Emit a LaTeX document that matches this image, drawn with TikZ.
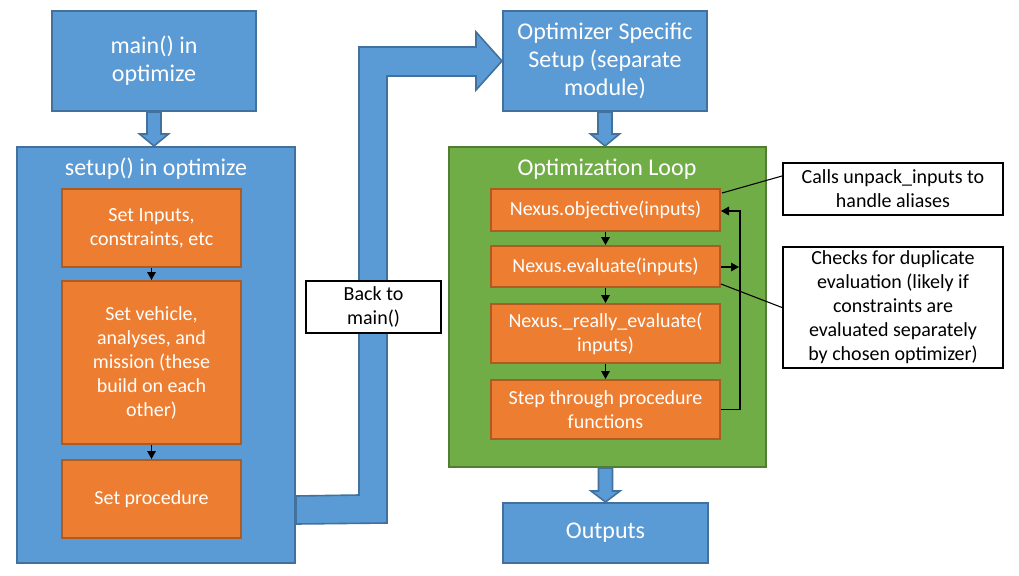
\documentclass[tikz,border=0pt]{standalone}
\usepackage{fontspec}
\setmainfont{Carlito}
\usetikzlibrary{calc,positioning,arrows.meta,backgrounds}
\definecolor{boxblue}{HTML}{5B9BD5}
\definecolor{blueline}{HTML}{41719C}
\definecolor{boxorange}{HTML}{ED7D31}
\definecolor{orangeline}{HTML}{AE5A21}
\definecolor{boxgreen}{HTML}{70AD47}
\definecolor{greenline}{HTML}{507E32}
\newcommand{\pxu}{0.75pt}
\tikzset{%
  >={Triangle[length=6pt,width=6.5pt]},
  big/.style={font=\fontsize{18}{21}\selectfont},
  small/.style={font=\fontsize{15}{18}\selectfont},
  bluebox/.style={draw=blueline,fill=boxblue,line width=1.5pt,text=white,align=center,inner sep=0pt},
  orangebox/.style={draw=orangeline,fill=boxorange,line width=1.5pt,text=white,align=center,inner sep=0pt,small},
  greenbox/.style={draw=greenline,fill=boxgreen,line width=1.5pt,inner sep=0pt},
  note/.style={draw=black,fill=white,line width=1.5pt,text=black,align=center,inner sep=0pt,small},
  title/.style={text=white,big,inner sep=0pt},
  blockarrow/.style={fill=boxblue,draw=blueline,line width=1.2pt},
  line/.style={draw,line width=0.8pt}
}
\begin{document}
\begin{tikzpicture}[x=0.75pt,y=-0.75pt]
\useasboundingbox (0,0) rectangle (1019,575);
% left column
\node[bluebox,big,minimum width=204*\pxu,minimum height=100*\pxu] (main) at (154,61) {main() in\\optimize};
\node[bluebox,minimum width=278*\pxu,minimum height=416*\pxu] (setup) at (156,355) {};
\node[title] (setuptitle) at (156,169) {setup() in optimize};
\node[orangebox,minimum width=179*\pxu,minimum height=78*\pxu] (inputs) at (151.5,228) {Set Inputs,\\constraints, etc};
\node[orangebox,minimum width=179*\pxu,minimum height=163*\pxu] (vehicle) at (151.5,362.5) {Set vehicle,\\analyses, and\\mission (these\\build on each\\other)};
\node[orangebox,minimum width=179*\pxu,minimum height=78*\pxu] (procedure) at (151.5,499) {Set procedure};
\draw[line,->] (inputs) -- (vehicle);
\draw[line,->] (vehicle) -- (procedure);
% right column
\node[bluebox,big,minimum width=204*\pxu,minimum height=100*\pxu] (opt) at (605,61) {Optimizer Specific\\Setup (separate\\module)};
\node[greenbox,minimum width=317*\pxu,minimum height=320*\pxu] (loop) at (607.5,307) {};
\node[title] (looptitle) at (607,169) {Optimization Loop};
\node[orangebox,minimum width=229*\pxu,minimum height=42*\pxu] (objective) at (605.5,210) {Nexus.objective(inputs)};
\node[orangebox,minimum width=229*\pxu,minimum height=41*\pxu] (evaluate) at (605.5,266.5) {Nexus.evaluate(inputs)};
\node[orangebox,minimum width=229*\pxu,minimum height=59*\pxu] (really) at (605.5,333.5) {Nexus.\_really\_evaluate(\\inputs)};
\node[orangebox,minimum width=229*\pxu,minimum height=59*\pxu] (steps) at (605.5,409.5) {Step through procedure\\functions};
\node[bluebox,big,minimum width=205*\pxu,minimum height=60*\pxu] (outputs) at (605.5,533) {Outputs};
\draw[line,->] (objective) -- (evaluate);
\draw[line,->] (evaluate) -- (really);
\draw[line,->] (really) -- (steps);
\coordinate (loopback) at ($(steps.east)+(19,0)$);
\draw[line,->] (steps.east) -- (loopback) |- ($(objective.east)+(0,1)$);
\draw[line,->] ($(evaluate.east)+(0,0.5)$) -- ($(evaluate.east -| loopback)+(-1,0.5)$);
% notes
\node[note,minimum width=220*\pxu,minimum height=52*\pxu] (note1) at (893,189) {Calls unpack\_inputs to\\handle aliases};
\node[note,minimum width=220*\pxu,minimum height=121*\pxu] (note2) at (893,307.5) {Checks for duplicate\\evaluation (likely if\\constraints are\\evaluated separately\\by chosen optimizer)};
\draw[line] ($(note1.west)+(0,-13)$) -- ($(objective.north east)+(1,5)$);
\draw[line] ($(evaluate.south east)+(0,-4)$) -- (note2.west);
% block arrows
\begin{scope}[on background layer]
\path[blockarrow] ($(main.south)+(-7,0)$) -- ($(main.south)+(-7,22)$) -- ($(main.south)+(-14.5,22)$)
  -- (main.south |- setup.north) -- ($(main.south)+(14.5,22)$) -- ($(main.south)+(7,22)$) -- ($(main.south)+(7,0)$) -- cycle;
\path[blockarrow] ($(opt.south)+(-7,0)$) -- ($(opt.south)+(-7,22)$) -- ($(opt.south)+(-14.5,22)$)
  -- (opt.south |- loop.north) -- ($(opt.south)+(14.5,22)$) -- ($(opt.south)+(7,22)$) -- ($(opt.south)+(7,0)$) -- cycle;
\path[blockarrow] ($(outputs.north |- loop.south)+(-7,0)$) -- ($(outputs.north |- loop.south)+(-7,23)$)
  -- ($(outputs.north |- loop.south)+(-14.5,23)$) -- (outputs.north) -- ($(outputs.north |- loop.south)+(14.5,23)$)
  -- ($(outputs.north |- loop.south)+(7,23)$) -- ($(outputs.north |- loop.south)+(7,0)$) -- cycle;
\path[blockarrow] ($(setup.south east)+(0,-68)$) -- (359,495) -- (359,47) -- (476,47) -- (476,32) -- (opt.west)
  -- (476,90) -- (476,76) -- (387,76) -- (387,523) -- ($(setup.south east)+(0,-40)$) -- cycle;
\end{scope}
\node[note,minimum width=135*\pxu,minimum height=52*\pxu] (back) at (373.5,307) {Back to\\main()};
\end{tikzpicture}
\end{document}
